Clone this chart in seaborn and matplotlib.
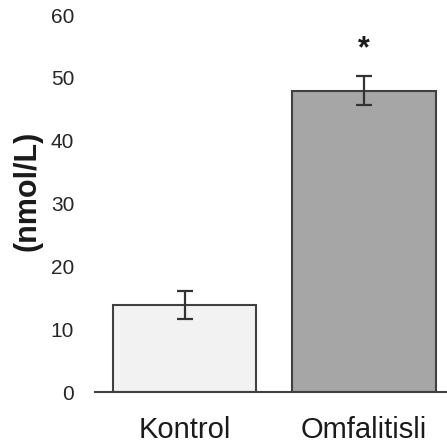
import matplotlib
matplotlib.use("Agg")
import matplotlib.pyplot as plt
import seaborn as sns
import pandas as pd

categories = ["Kontrol", "Omfalitisli"]
values = [13.9, 48.0]
errors = [2.2, 2.3]
bar_colors = ["#f2f2f2", "#a6a6a6"]
yticks = [0, 10, 20, 30, 40, 50, 60]
ylabel = "(nmol/L)"
sig_mark = "*"
sig_index = 1
sig_y = 54.5

sns.set_style("white")
plt.rcParams["font.family"] = ["Liberation Sans", "DejaVu Sans"]

df = pd.DataFrame({"group": categories, "value": values})

fig = plt.figure(figsize=(4.47, 4.45), dpi=100)
ax = fig.add_axes([0.2125, 0.119, 0.79, 0.847])

sns.barplot(data=df, x="group", y="value", hue="group", palette=bar_colors,
            width=0.8, edgecolor="#404040", linewidth=1.5, errorbar=None,
            legend=False, ax=ax)
ax.errorbar(x=list(range(len(categories))), y=values, yerr=errors, fmt="none",
            ecolor="#333333", elinewidth=1.6, capsize=6, capthick=1.6)

ax.text(sig_index, sig_y, sig_mark, ha="center", va="center",
        fontsize=22, fontweight="bold", color="#1a1a1a")

ax.set_ylim(0, 60)
ax.set_xlim(-0.5, 1.47)
ax.set_yticks(yticks)
ax.set_yticklabels([str(t) for t in yticks], fontsize=15, color="#262626")
ax.tick_params(axis="y", length=0, pad=15)
ax.tick_params(axis="x", length=0, pad=17, labelsize=21, labelcolor="#1a1a1a")
ax.set_xlabel("")
ax.set_ylabel(ylabel, fontsize=22, fontweight="bold", color="#1a1a1a")
ax.yaxis.set_label_coords(-0.15, 0.535)

for s in ["top", "right", "left"]:
    ax.spines[s].set_visible(False)
ax.spines["bottom"].set_color("#404040")
ax.spines["bottom"].set_linewidth(1.5)

fig.savefig("out.png", dpi=100)
